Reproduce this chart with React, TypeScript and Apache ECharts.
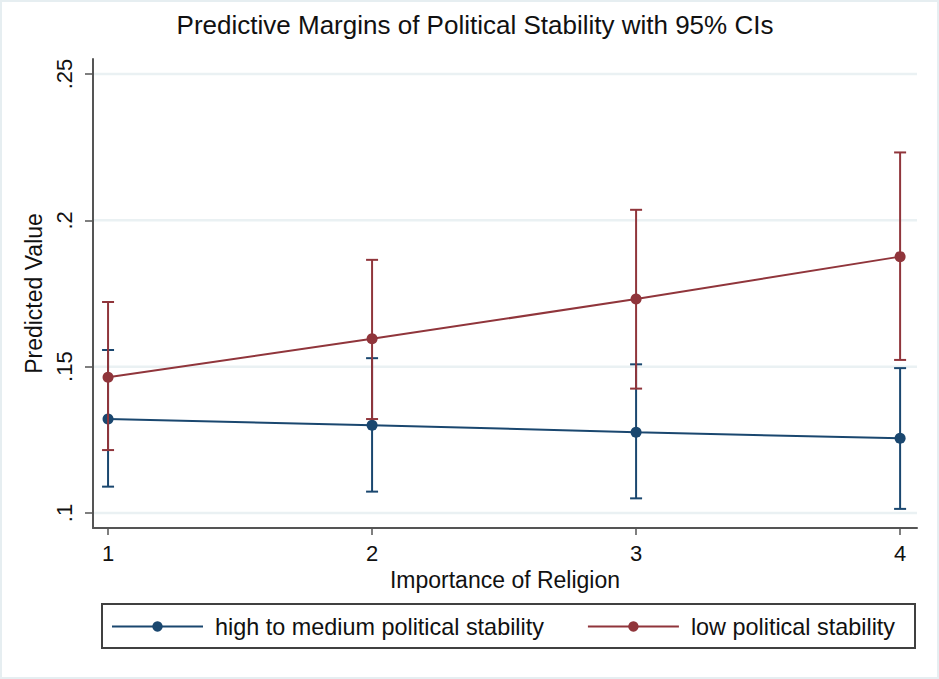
import React, { useEffect, useRef } from "react";
import * as echarts from "echarts";

const categories = [1, 2, 3, 4];
const seriesNames = ["high to medium political stability", "low political stability"];

const highMedMargin = [0.1321, 0.13, 0.1276, 0.1255];
const highMedLow = [0.109, 0.1073, 0.105, 0.1014];
const highMedHigh = [0.1557, 0.1529, 0.1508, 0.1495];

const lowMargin = [0.1464, 0.1595, 0.1731, 0.1876];
const lowLow = [0.1215, 0.1321, 0.1425, 0.1523];
const lowHigh = [0.1721, 0.1865, 0.2036, 0.2232];

const yTicks = [0.1, 0.15, 0.2, 0.25];
const yTickLabels = [".1", ".15", ".2", ".25"];
const xTicks = [1, 2, 3, 4];

const BLUE = "#1A476F";
const RED = "#90353B";
const FONT = "'Liberation Sans', Arial, sans-serif";

export default function App() {
  const ref = useRef<HTMLDivElement>(null);

  useEffect(() => {
    if (!ref.current) return;
    const chart = echarts.init(ref.current, undefined, { renderer: "svg" });

    const errRender = (color: string) => (params: any, api: any) => {
      const x = api.value(0);
      const lo = api.coord([x, api.value(1)]);
      const hi = api.coord([x, api.value(2)]);
      const cap = 6;
      const style = { stroke: color, lineWidth: 2 };
      return {
        type: "group",
        children: [
          { type: "line", shape: { x1: lo[0], y1: lo[1], x2: hi[0], y2: hi[1] }, style },
          { type: "line", shape: { x1: lo[0] - cap, y1: lo[1], x2: lo[0] + cap, y2: lo[1] }, style },
          { type: "line", shape: { x1: hi[0] - cap, y1: hi[1], x2: hi[0] + cap, y2: hi[1] }, style },
        ],
      };
    };

    const option: any = {
      animation: false,
      backgroundColor: "#ffffff",
      textStyle: { fontFamily: FONT },
      title: {
        text: "Predictive Margins of Political Stability with 95% CIs",
        left: 475,
        textAlign: "center",
        top: 12,
        padding: 0,
        textStyle: { fontFamily: FONT, fontSize: 26, fontWeight: "normal", color: "#111" },
      },
      grid: { left: 93, right: 22, top: 59, bottom: 151, containLabel: false },
      xAxis: {
        type: "value",
        min: 0.943,
        max: 4.064,
        name: "Importance of Religion",
        nameLocation: "middle",
        nameGap: 37,
        nameTextStyle: { fontFamily: FONT, fontSize: 23, color: "#111" },
        axisLine: { show: true, onZero: false, lineStyle: { color: "#555", width: 2 } },
        axisTick: { show: true, length: 7, customValues: xTicks, lineStyle: { color: "#555", width: 1.5 } },
        axisLabel: {
          customValues: xTicks,
          margin: 14,
          fontFamily: FONT,
          fontSize: 22,
          color: "#111",
        },
        splitLine: { show: false },
      },
      yAxis: {
        type: "value",
        min: 0.09487,
        max: 0.25513,
        name: "Predicted Value",
        nameLocation: "middle",
        nameGap: 45,
        nameTextStyle: { fontFamily: FONT, fontSize: 23, color: "#111" },
        axisLine: { show: true, onZero: false, lineStyle: { color: "#555", width: 2 } },
        axisTick: { show: true, length: 8, customValues: yTicks, lineStyle: { color: "#555", width: 1.5 } },
        axisLabel: {
          customValues: yTicks,
          rotate: 90,
          margin: 18,
          fontFamily: FONT,
          fontSize: 22,
          color: "#111",
          formatter: (v: number) => {
            const i = yTicks.findIndex((t) => Math.abs(t - v) < 1e-9);
            return i >= 0 ? yTickLabels[i] : "";
          },
        },
        splitLine: { show: false },
      },
      legend: {
        data: seriesNames,
        left: 111,
        top: 615,
        padding: 0,
        itemWidth: 91,
        itemHeight: 13,
        itemGap: 43,
        textStyle: { fontFamily: FONT, fontSize: 23.4, color: "#111", padding: [0, 0, 0, 7] },
      },
      graphic: [
        {
          type: "rect",
          shape: { x: 1, y: 1, width: 937, height: 677 },
          style: { fill: "none", stroke: "#E6EEF1", lineWidth: 2 },
          silent: true,
        },
        {
          type: "rect",
          shape: { x: 102, y: 604, width: 813, height: 44 },
          style: { fill: "none", stroke: "#404040", lineWidth: 2 },
          silent: true,
        },
      ],
      series: [
        {
          type: "custom",
          name: "grid",
          z: 1,
          silent: true,
          data: yTicks.map((t) => [t]),
          renderItem: (params: any, api: any) => {
            const cs = params.coordSys;
            const y = api.coord([cs.x, api.value(0)])[1];
            return {
              type: "line",
              shape: { x1: cs.x + 1, y1: y, x2: cs.x + cs.width, y2: y },
              style: { stroke: "#EAF1F3", lineWidth: 2.5 },
            };
          },
        },
        {
          type: "custom",
          name: seriesNames[0] + " CI",
          z: 2,
          silent: true,
          data: categories.map((c, i) => [c, highMedLow[i], highMedHigh[i]]),
          renderItem: errRender(BLUE),
        },
        {
          type: "line",
          name: seriesNames[0],
          z: 3,
          data: categories.map((c, i) => [c, highMedMargin[i]]),
          symbol: "circle",
          symbolSize: 11,
          itemStyle: { color: BLUE },
          lineStyle: { color: BLUE, width: 2 },
        },
        {
          type: "custom",
          name: seriesNames[1] + " CI",
          z: 4,
          silent: true,
          data: categories.map((c, i) => [c, lowLow[i], lowHigh[i]]),
          renderItem: errRender(RED),
        },
        {
          type: "line",
          name: seriesNames[1],
          z: 5,
          data: categories.map((c, i) => [c, lowMargin[i]]),
          symbol: "circle",
          symbolSize: 11,
          itemStyle: { color: RED },
          lineStyle: { color: RED, width: 2 },
        },
      ],
    };

    chart.setOption(option);
    return () => chart.dispose();
  }, []);

  return (
    <div
      ref={ref}
      style={{ position: "fixed", left: 0, top: 0, width: 939, height: 679 }}
    />
  );
}
